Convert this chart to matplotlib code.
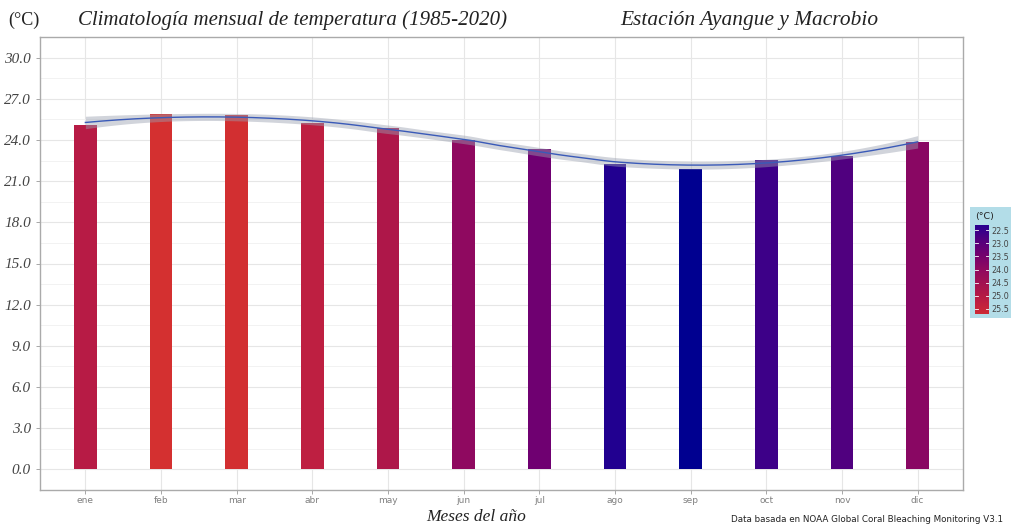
import numpy as np
import matplotlib
matplotlib.use("Agg")
import matplotlib.pyplot as plt
from matplotlib.colors import LinearSegmentedColormap, Normalize
from matplotlib.patches import Rectangle

# monthly climatology values (deg C)
months = ["ene", "feb", "mar", "abr", "may", "jun",
          "jul", "ago", "sep", "oct", "nov", "dic"]
temps = [25.07, 25.90, 25.85, 25.26, 24.85, 23.98,
         23.37, 22.23, 21.91, 22.57, 22.84, 23.85]
legend_ticks = [22.5, 23.0, 23.5, 24.0, 24.5, 25.0, 25.5]
y_ticks = [0, 3, 6, 9, 12, 15, 18, 21, 24, 27, 30]


def loess(x, y, xs, span=0.75):
    """local quadratic fit with tricube weights, returns fit and weights"""
    n = len(x)
    q = int(np.floor(n * span))
    fit = np.zeros(len(xs))
    L = np.zeros((len(xs), n))
    for i, x0 in enumerate(xs):
        d = np.abs(x - x0)
        h = np.sort(d)[q - 1]
        w = np.clip(1 - (d / h) ** 3, 0, None) ** 3
        X = np.vstack([np.ones(n), x - x0, (x - x0) ** 2]).T
        W = np.diag(w)
        A = np.linalg.pinv(X.T @ W @ X) @ X.T @ W
        L[i] = A[0]
        fit[i] = A[0] @ y
    return fit, L


x = np.arange(1, 13, dtype=float)
y = np.array(temps)

# residual scale from the fit at the data points
fit_pts, L_pts = loess(x, y, x)
resid = y - fit_pts
dof = len(x) - np.trace(L_pts)
sigma = np.sqrt(np.sum(resid ** 2) / dof)

xs = np.linspace(1, 12, 200)
fit, L = loess(x, y, xs)
se = sigma * np.sqrt(np.sum(L ** 2, axis=1))
t_val = 2.2

cmap = LinearSegmentedColormap.from_list(
    "temp", [(0.0, "#000090"), (0.1, "#2a0090"), (0.23, "#50007f"),
             (0.37, "#700070"), (0.5, "#8c0862"), (0.75, "#b01848"),
             (0.85, "#c02040"), (1.0, "#d43030")])
norm = Normalize(vmin=min(temps), vmax=max(temps))

fig = plt.figure(figsize=(10.11, 5.27), dpi=100)
ax = fig.add_axes([40 / 1011, 1 - 490 / 527, 923 / 1011, 453 / 527])

serif = "Liberation Serif"

ax.bar(x, y, width=0.3, color=cmap(norm(y)), zorder=2)
ax.fill_between(xs, fit - t_val * se, fit + t_val * se,
                color="#9aa0b0", alpha=0.45, lw=0, zorder=3)
ax.plot(xs, fit, color="#3a5ab8", lw=1.0, zorder=4)

ax.set_xlim(0.4, 12.6)
ax.set_ylim(-1.5, 31.5)
ax.set_xticks(x)
ax.set_xticklabels(months, fontsize=6.5, color="#808080")
ax.set_yticks(y_ticks)
ax.set_yticklabels([f"{v:.1f}" for v in y_ticks], fontsize=11,
                   family=serif, style="italic", color="#444444")
ax.set_yticks(np.arange(1.5, 31, 3), minor=True)
ax.grid(True, which="major", color="#e6e6e6", lw=0.8, zorder=0)
ax.grid(True, which="minor", axis="y", color="#f0f0f0", lw=0.6, zorder=0)
ax.set_axisbelow(True)
ax.tick_params(axis="both", which="major", length=3, color="#999999", width=0.6)
ax.tick_params(axis="x", pad=1.5)
ax.tick_params(axis="y", which="minor", length=0)
for s in ax.spines.values():
    s.set_color("#aaaaaa")
    s.set_linewidth(1.0)

fig.text(476 / 1011, 1 - 517 / 527, "Meses del año", family=serif,
         style="italic", fontsize=12.5, color="#222222", ha="center", va="center")

fig.text(8 / 1011, 1 - 20 / 527, "(°C)", family=serif, fontsize=13,
         color="#222222", va="center")
fig.text(78 / 1011, 1 - 20 / 527,
         "Climatología mensual de temperatura (1985-2020)",
         family=serif, style="italic", fontsize=15, color="#222222", va="center")
fig.text(620 / 1011, 1 - 20 / 527, "Estación Ayangue y Macrobio",
         family=serif, style="italic", fontsize=15.4, color="#222222", va="center")
fig.text(1003 / 1011, 1 - 520 / 527,
         "Data basada en NOAA Global Coral Bleaching Monitoring V3.1",
         fontsize=6.3, color="#222222", ha="right", va="center")

# legend box
legend_bg = Rectangle((970 / 1011, 1 - 318 / 527), 45 / 1011, 111 / 527,
                      transform=fig.transFigure, facecolor="#b3dde8",
                      edgecolor="none", zorder=-5)
fig.add_artist(legend_bg)
fig.text(975 / 1011, 1 - 216 / 527, "(°C)", fontsize=6.8, color="#222222",
         va="center")
cax = fig.add_axes([975 / 1011, 1 - 314 / 527, 14 / 1011, 89 / 527])
cax.set_zorder(5)
grad = np.linspace(22.3, 25.7, 200).reshape(-1, 1)
cax.imshow(grad, aspect="auto", cmap=cmap, norm=norm,
           extent=[0, 1, 25.7, 22.3])
cax.set_ylim(25.7, 22.3)
cax.set_xticks([])
cax.yaxis.tick_right()
cax.set_yticks(legend_ticks)
cax.set_yticklabels([f"{v:.1f}" for v in legend_ticks], fontsize=5.8,
                    color="#444444")
cax.tick_params(axis="y", length=0, pad=1.5)
for v in legend_ticks:
    cax.axhline(v, color="white", lw=0.6, xmin=0, xmax=0.2)
    cax.axhline(v, color="white", lw=0.6, xmin=0.8, xmax=1)
for s in cax.spines.values():
    s.set_visible(False)

fig.savefig("out.png", dpi=100)
